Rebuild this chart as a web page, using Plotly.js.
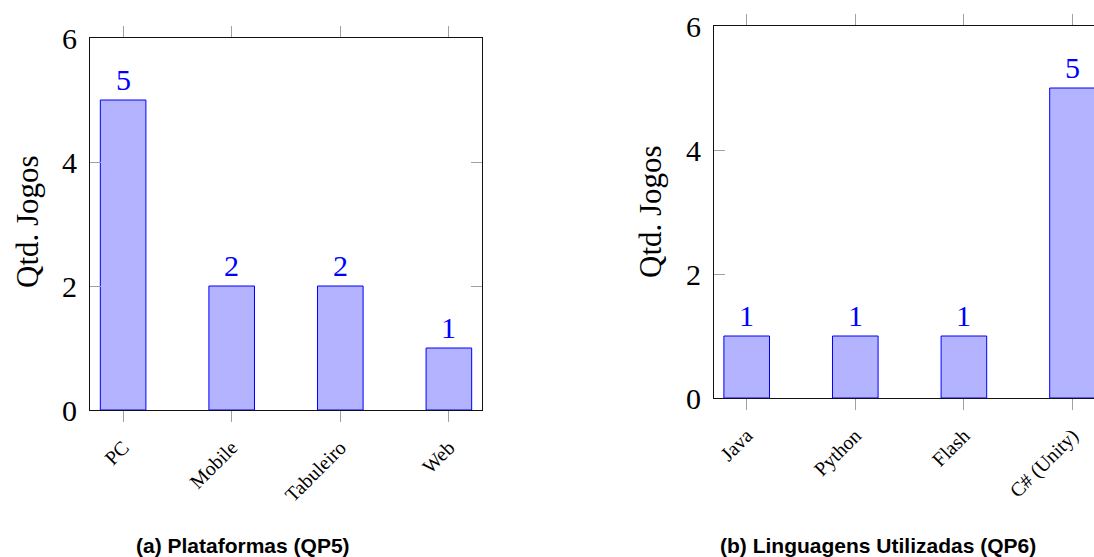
<!DOCTYPE html>
<html>
<head>
<meta charset="utf-8">
<script src="https://cdn.plot.ly/plotly-3.0.1.min.js"></script>
<style>html,body{margin:0;padding:0;background:#fff;}#chart{width:1094px;height:557px;}</style>
</head>
<body>
<div id="chart"></div>
<script>
const platformCategories = ["PC", "Mobile", "Tabuleiro", "Web"];
const platformValues = [5, 2, 2, 1];
const languageCategories = ["Java", "Python", "Flash", "C# (Unity)"];
const languageValues = [1, 1, 1, 5];
const yTickValues = [0, 2, 4, 6];
const yTitle = "Qtd. Jogos";
const captionA = "(a) Plataformas (QP5)";
const captionB = "(b) Linguagens Utilizadas (QP6)";

const W = 1094, H = 557;
const serif = "Liberation Serif, Times New Roman, serif";
const fillC = "rgb(179,179,255)";
const lineC = "rgb(0,0,255)";
const tickC = "rgb(160,160,160)";

function barTrace(cats, vals, xa, ya) {
  return {
    type: "bar", x: cats, y: vals, xaxis: xa, yaxis: ya,
    width: 0.42,
    marker: {color: fillC, line: {color: lineC, width: 1}},
    hoverinfo: "skip", showlegend: false
  };
}

const data = [
  barTrace(platformCategories, platformValues, "x", "y"),
  barTrace(languageCategories, languageValues, "x2", "y2")
];

function xAxis(range, domain, anchor) {
  return {
    domain: domain, range: range, anchor: anchor, type: "category",
    showline: true, linecolor: "#111", linewidth: 1, mirror: "allticks",
    ticks: "outside", ticklen: 11, tickwidth: 1, tickcolor: tickC,
    tickangle: -45, tickfont: {family: serif, size: 20, color: "#000"},
    ticklabelstandoff: 6,
    showgrid: false, zeroline: false, fixedrange: true
  };
}
function yAxis(domain, anchor, mirror) {
  return {
    domain: domain, range: [0, 6], anchor: anchor,
    tickvals: yTickValues, ticktext: yTickValues.map(String),
    showline: true, linecolor: "#111", linewidth: 1, mirror: mirror,
    ticks: "inside", ticklen: 11, tickwidth: 1, tickcolor: tickC,
    tickfont: {family: serif, size: 30, color: "#000"}, ticklabelstandoff: 6,
    showgrid: false, zeroline: false, fixedrange: true
  };
}

const annotations = [];
function valueLabels(cats, vals, xr, yr) {
  cats.forEach((c, i) => {
    annotations.push({
      x: c, y: vals[i], xref: xr, yref: yr, text: String(vals[i]),
      showarrow: false, yanchor: "bottom", yshift: 2,
      font: {family: serif, size: 30, color: lineC}
    });
  });
}
valueLabels(platformCategories, platformValues, "x", "y");
valueLabels(languageCategories, languageValues, "x2", "y2");

annotations.push({
  text: yTitle, textangle: -90, showarrow: false, xref: "paper", yref: "paper",
  x: 27 / W, y: 1 - 222 / H, xanchor: "center", yanchor: "middle",
  font: {family: serif, size: 31, color: "#000"}
});
annotations.push({
  text: yTitle, textangle: -90, showarrow: false, xref: "paper", yref: "paper",
  x: 650 / W, y: 1 - 212 / H, xanchor: "center", yanchor: "middle",
  font: {family: serif, size: 31, color: "#000"}
});
annotations.push({
  text: "<b>" + captionA + "</b>", showarrow: false, xref: "paper", yref: "paper",
  x: 243 / W, y: 1 - 545 / H, xanchor: "center", yanchor: "middle",
  font: {family: "Liberation Sans, Arial, sans-serif", size: 21, color: "#000"}
});
annotations.push({
  text: "<b>" + captionB + "</b>", showarrow: false, xref: "paper", yref: "paper",
  x: 878 / W, y: 1 - 545 / H, xanchor: "center", yanchor: "middle",
  font: {family: "Liberation Sans, Arial, sans-serif", size: 21, color: "#000"}
});

const layout = {
  width: W, height: H,
  margin: {l: 0, r: 0, t: 0, b: 0},
  paper_bgcolor: "#fff", plot_bgcolor: "#fff",
  xaxis: xAxis([-0.305, 3.305], [90 / W, 482 / W], "y"),
  yaxis: yAxis([1 - 410 / H, 1 - 38 / H], "x", "allticks"),
  xaxis2: xAxis([-0.301, 3.198], [714 / W, 1], "y2"),
  yaxis2: yAxis([1 - 398 / H, 1 - 26 / H], "x2", false),
  annotations: annotations,
  showlegend: false
};

Plotly.newPlot("chart", data, layout, {displayModeBar: false, staticPlot: true});
</script>
</body>
</html>
